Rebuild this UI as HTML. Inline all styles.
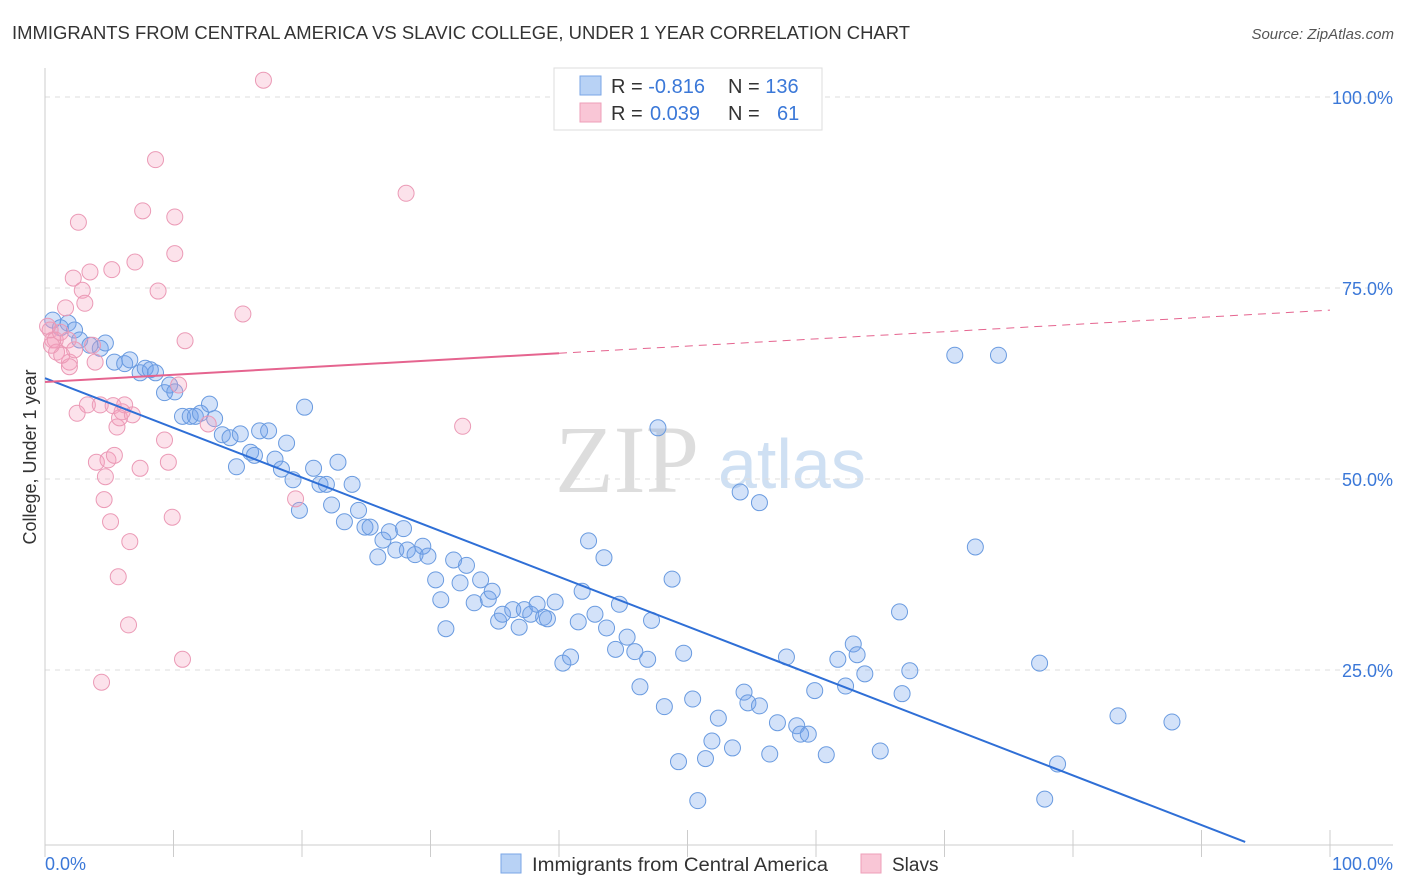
<!DOCTYPE html>
<html><head><meta charset="utf-8"><style>
body{margin:0;background:#fff;font-family:"Liberation Sans",sans-serif}
svg{display:block}
</style></head><body>
<svg id="c" width="1406" height="892" xmlns="http://www.w3.org/2000/svg">
<text x="12" y="39" font-size="18" fill="#333" textLength="898" lengthAdjust="spacingAndGlyphs">IMMIGRANTS FROM CENTRAL AMERICA VS SLAVIC COLLEGE, UNDER 1 YEAR CORRELATION CHART</text>
<text x="1394" y="39" font-size="15" fill="#555" font-style="italic" text-anchor="end">Source: ZipAtlas.com</text>
<text x="555" y="492" font-size="96" fill="#ddd" font-family="Liberation Serif,serif">ZIP</text>
<text x="718" y="488" font-size="70" fill="#cfe0f3">atlas</text>
<g id="grid"></g><g id="pts"></g><g id="lines"></g>
<text x="36" y="457" font-size="18" fill="#333" text-anchor="middle" transform="rotate(-90 36 457)">College, Under 1 year</text>
<g>
<rect x="554" y="68" width="268" height="62" fill="#fff" stroke="#ddd"/>
<rect x="580" y="76" width="21" height="19" fill="#b8d2f5" stroke="#7aa6e6"/>
<rect x="580" y="103" width="21" height="19" fill="#f9c6d6" stroke="#ee9fb8"/>
<text x="611" y="93" font-size="20" fill="#333">R = <tspan fill="#3b78d8">-0.816</tspan></text>
<text x="728" y="93" font-size="20" fill="#333">N = <tspan fill="#3b78d8">136</tspan></text>
<text x="611" y="120" font-size="20" fill="#333">R = <tspan x="650" fill="#3b78d8">0.039</tspan></text>
<text x="728" y="120" font-size="20" fill="#333">N = <tspan x="777" fill="#3b78d8">61</tspan></text>
</g>
<g>
<rect x="501" y="854" width="20" height="19" fill="#b8d2f5" stroke="#7aa6e6"/>
<text x="532" y="871" font-size="19" fill="#333" textLength="296" lengthAdjust="spacingAndGlyphs">Immigrants from Central America</text>
<rect x="861" y="854" width="20" height="19" fill="#f9c6d6" stroke="#ee9fb8"/>
<text x="892" y="871" font-size="19" fill="#333">Slavs</text>
</g>
</svg>
<script>
const yTicks=[100,75,50,25];
const xTickLabels=["0.0%","100.0%"];
const blueX=[.6,1.2,1.8,2.3,2.7,3.5,4.3,4.7,5.4,6.2,6.6,7.4,7.8,8.2,8.6,9.3,9.7,10.1,10.7,11.3,11.7,12.1,12.8,13.2,13.8,14.4,14.9,15.2,16.0,16.3,16.7,17.4,17.9,18.4,18.8,19.3,19.8,20.2,20.9,21.4,21.9,22.3,22.8,23.3,23.9,24.4,24.9,25.3,25.9,26.3,26.8,27.3,27.9,28.2,28.8,29.4,29.8,30.4,30.8,31.2,31.8,32.3,32.8,33.4,33.9,34.5,34.8,35.3,35.6,36.4,36.9,37.3,37.8,38.3,38.8,39.1,39.7,40.3,40.9,41.5,41.8,42.3,42.8,43.5,43.7,44.4,44.7,45.3,45.9,46.3,46.9,47.2,47.7,48.2,48.8,49.3,49.7,50.4,50.8,51.4,51.9,52.4,53.5,54.1,54.4,54.7,55.6,55.6,56.4,57.0,57.7,58.5,58.8,59.4,59.9,60.8,61.7,62.3,62.9,63.2,63.8,65.0,66.5,66.7,67.3,70.8,72.4,74.2,77.4,77.8,78.8,83.5,87.7];
const blueY=[70.8,69.8,70.4,69.5,68.2,67.5,67.1,67.8,65.3,65.1,65.6,63.9,64.5,64.3,63.9,61.3,62.3,61.4,58.2,58.2,58.2,58.6,59.8,57.9,55.8,55.4,51.6,55.9,53.5,53.1,56.3,56.3,52.6,51.3,54.7,49.9,45.9,59.4,51.4,49.3,49.3,46.6,52.2,44.4,49.3,45.9,43.7,43.7,39.8,42.0,43.1,40.7,43.5,40.7,40.1,41.2,39.9,36.8,34.2,30.4,39.4,36.4,38.7,33.8,36.8,34.3,35.3,31.4,32.3,32.9,30.6,32.9,32.3,33.6,31.9,31.7,33.9,25.9,26.7,31.3,35.3,41.9,32.3,39.7,30.5,27.7,33.6,29.3,27.4,22.8,26.4,31.5,56.7,20.2,36.9,13.0,27.2,21.2,7.9,13.4,15.7,18.7,14.8,48.3,22.1,20.7,46.9,20.3,14.0,18.1,26.7,17.7,16.6,16.6,22.3,13.9,26.4,22.9,28.4,27.0,24.5,14.4,32.6,21.9,24.9,66.2,41.1,66.2,25.9,8.1,12.7,19.0,18.2];
const pinkX=[.4,.6,.8,1.2,1.6,1.8,1.9,2.2,2.3,2.5,2.6,2.9,3.1,3.3,3.5,3.7,3.9,4.0,4.3,4.4,4.6,4.7,4.9,5.1,5.2,5.3,5.4,5.6,5.7,5.8,6.0,6.2,6.5,6.6,6.8,7.0,7.4,7.6,8.6,8.8,9.3,9.6,9.9,10.1,10.1,10.4,10.7,10.9,12.7,15.4,17.0,19.5,28.1,32.5,1.9,.9,1.3,.2,.5];
const pinkY=[69.5,68.2,68.2,69.2,72.4,68.2,65.3,76.3,66.9,58.6,83.6,74.7,73.0,59.7,77.1,67.5,65.3,52.2,59.7,23.4,47.3,50.3,52.5,44.4,77.4,59.6,53.1,56.8,37.2,58.0,58.8,59.7,30.9,41.8,58.4,78.4,51.4,85.1,91.8,74.6,55.1,52.2,45.0,84.3,79.5,62.3,26.4,68.1,57.2,71.6,102.2,47.4,87.4,56.9,64.7,66.6,66.2,70.0,67.5];
const blueTrend=[63.2,-0.65];
const pinkTrend=[62.7,0.094];
const NS="http://www.w3.org/2000/svg";
const X=v=>45+v*12.85, Y=v=>861-v*7.64;
function mk(tag,attrs,parent){const e=document.createElementNS(NS,tag);for(const k in attrs)e.setAttribute(k,attrs[k]);parent.appendChild(e);return e;}
const grid=document.getElementById('grid'),pts=document.getElementById('pts'),lines=document.getElementById('lines'),svg=document.getElementById('c');
yTicks.forEach(t=>{
 const l=mk('line',{x1:45,x2:1393,y1:Y(t),y2:Y(t),stroke:'#ddd','stroke-dasharray':'5,5'},grid);
 
 
 const tx=mk('text',{x:1393,y:Y(t)+7,'font-size':18,fill:'#3b78d8','text-anchor':'end'},svg);
 tx.textContent=t.toFixed(1)+'%';
 
 
});
mk('line',{x1:45,x2:45,y1:68,y2:845,stroke:'#ccc'},grid);
mk('line',{x1:45,x2:1393,y1:845,y2:845,stroke:'#ccc'},grid);
for(let i=0;i<=10;i++){mk('line',{x1:X(i*10),x2:X(i*10),y1:830,y2:857,stroke:'#ccc'},grid);}
const xl0=mk('text',{x:45,y:870,'font-size':18,fill:'#3b78d8'},svg);xl0.textContent=xTickLabels[0];


const xl1=mk('text',{x:1393,y:870,'font-size':18,fill:'#3b78d8','text-anchor':'end'},svg);xl1.textContent=xTickLabels[1];


blueX.forEach((x,i)=>{const c=mk('circle',{cx:X(x),cy:Y(blueY[i]),r:8,fill:'rgba(110,160,235,0.3)',stroke:'#6a9be0','stroke-width':1},pts);
 
 });
pinkX.forEach((x,i)=>{const c=mk('circle',{cx:X(x),cy:Y(pinkY[i]),r:8,fill:'rgba(245,160,190,0.3)',stroke:'#eb9ab6','stroke-width':1},pts);
 
 });
const bl=mk('line',{x1:X(0),y1:Y(blueTrend[0]),x2:X(93.4),y2:Y(blueTrend[0]+93.4*blueTrend[1]),stroke:'#2f6fd6','stroke-width':2},lines);


const pl=mk('line',{x1:X(0),y1:Y(pinkTrend[0]),x2:X(40),y2:Y(pinkTrend[0]+40*pinkTrend[1]),stroke:'#e5648f','stroke-width':2},lines);


const pd=mk('line',{x1:X(40),y1:Y(pinkTrend[0]+40*pinkTrend[1]),x2:X(100),y2:Y(pinkTrend[0]+100*pinkTrend[1]),stroke:'#e5648f','stroke-width':1,'stroke-dasharray':'8,6'},lines);


</script>
</body></html>
